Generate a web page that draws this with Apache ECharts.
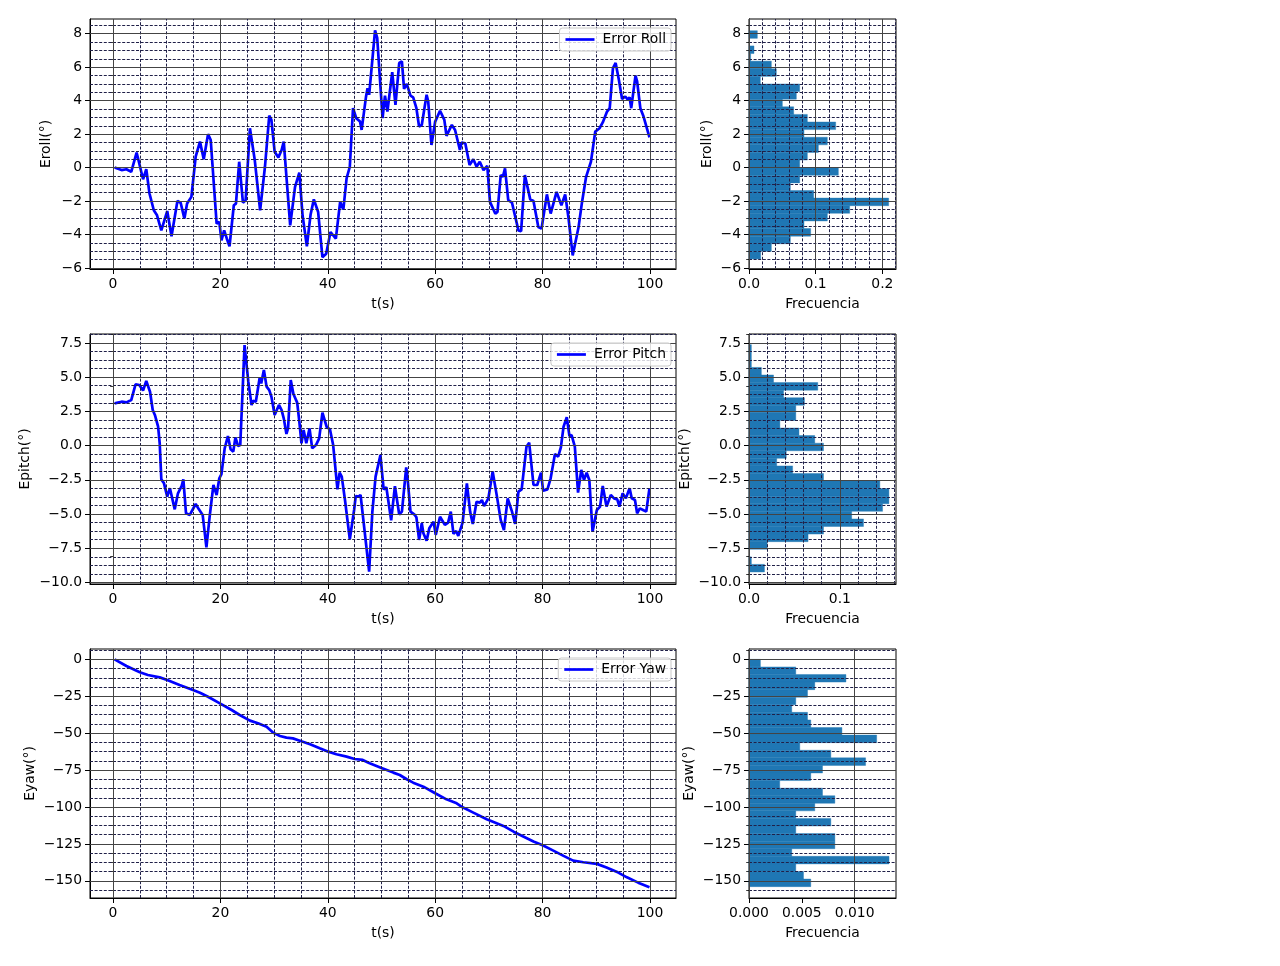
<!DOCTYPE html>
<html><head><meta charset="utf-8">
<script src="https://cdn.jsdelivr.net/npm/echarts@6/dist/echarts.min.js"></script>
<style>html,body{margin:0;padding:0;background:#fff}#c{width:1280px;height:966px}</style>
</head><body><div id="c"></div>
<script>
// ---------- data ----------
const rollTime = [0.3,1.6,2.5,3.4,4.4,5.6,6.2,6.8,7.6,8.2,9.0,10.1,10.9,12.0,12.6,13.3,13.8,14.6,15.4,16.2,16.9,17.7,18.2,19.3,19.8,20.2,20.7,21.2,21.7,22.5,22.9,23.5,24.2,24.7,25.5,26.4,27.4,28.3,29.1,29.5,30.1,30.8,31.4,31.8,32.3,33.0,33.9,34.7,35.3,36.1,36.8,37.4,38.2,39.0,39.7,40.5,41.5,42.3,42.9,43.5,44.1,44.7,45.3,46.0,46.3,47.1,47.4,47.7,48.8,49.2,50.2,50.65,51.1,52.0,52.6,53.3,53.8,54.2,54.7,55.4,55.9,56.5,57.0,57.5,58.4,58.7,59.3,60.0,60.9,61.7,62.1,63.1,63.7,64.6,64.9,65.6,66.4,67.1,67.7,68.3,69.0,69.7,70.2,71.2,71.6,72.2,72.6,73.0,73.6,74.3,75.5,76.0,76.7,77.0,77.7,78.3,79.2,79.8,80.8,81.5,82.6,83.5,84.2,84.8,85.6,86.7,87.3,88.1,89.0,89.8,90.6,91.2,92.0,92.5,93.1,93.6,94.2,94.8,95.4,95.9,96.2,96.5,97.3,97.6,98.2,98.8,99.9];
const rollVal = [0,-0.15,-0.1,-0.25,0.9,-0.7,-0.1,-1.55,-2.55,-2.85,-3.75,-2.6,-4.1,-2.0,-2.1,-3.05,-2.15,-1.75,0.65,1.55,0.5,2.0,1.65,-3.35,-3.25,-4.35,-3.75,-4.25,-4.7,-2.25,-2.15,0.35,-2.1,-1.95,2.35,0.45,-2.55,0.05,3.1,2.85,0.95,0.6,1.05,1.55,-0.55,-3.45,-1.15,-0.3,-2.85,-4.7,-2.8,-1.9,-2.65,-5.35,-5.15,-3.85,-4.25,-2.05,-2.5,-0.65,0.05,3.55,2.95,2.75,2.25,4.2,4.75,4.35,8.2,7.75,2.95,4.3,3.35,5.7,3.75,6.25,6.35,4.7,5.0,4.3,4.2,3.55,2.45,2.55,4.35,3.95,1.35,2.75,3.4,2.85,1.9,2.55,2.25,1.05,1.5,1.45,0.15,0.5,0.05,0.35,-0.15,0.1,-2.05,-2.75,-2.65,-0.45,-0.55,-0.05,-1.95,-2.1,-3.75,-3.8,-0.45,-0.55,-1.9,-2.0,-3.55,-3.65,-1.6,-2.75,-1.45,-2.25,-1.6,-2.95,-5.25,-3.55,-2.15,-0.55,0.35,2.15,2.35,2.7,3.35,3.55,5.95,6.25,5.25,4.1,4.25,4.05,4.2,3.55,5.5,5.15,3.55,3.05,1.8];

const pitchTime = [0.3,1.6,2.5,3.4,4.2,4.9,5.6,6.2,6.9,7.4,7.8,8.4,8.7,9.0,9.5,10.1,10.6,11.5,12.1,12.8,13.1,13.6,14.3,14.6,15.4,16.0,16.7,17.4,18.0,18.7,19.3,19.8,20.2,20.8,21.4,21.9,22.4,22.8,23.3,23.7,24.5,25.2,25.8,26.1,26.6,27.3,27.6,28.1,28.6,29.1,29.5,30.1,30.9,31.4,31.8,32.3,32.6,33.1,33.6,34.3,34.7,35.1,35.5,36.0,36.6,37.1,37.8,38.4,39.0,39.8,40.4,41.0,41.8,42.2,42.6,43.2,44.1,44.9,45.2,45.7,46.1,46.9,47.7,48.3,48.9,49.8,50.4,50.9,51.8,52.5,53.3,53.8,54.6,54.8,55.4,56.2,56.5,57.0,57.5,57.8,58.4,58.9,59.7,60.1,60.9,61.8,62.4,62.9,63.4,63.9,64.3,65.1,65.9,66.5,67.0,67.7,68.3,68.7,69.1,69.9,70.7,71.5,72.2,72.8,73.5,74.3,74.9,75.5,76.1,77.0,77.5,78.3,79.0,79.7,80.1,80.9,81.5,82.3,82.9,83.4,83.9,84.5,85.0,85.4,86.0,86.6,87.2,87.7,88.2,88.7,89.3,90.1,90.7,91.2,91.9,92.7,93.3,93.9,94.3,94.9,95.5,96.2,96.6,97.2,97.6,98.1,98.7,99.3,99.9];
const pitchVal = [3.09,3.21,3.16,3.33,4.48,4.43,4.02,4.72,3.94,2.6,2.24,1.38,0.17,-2.47,-2.76,-3.73,-3.12,-4.66,-3.49,-2.95,-2.47,-4.95,-5.07,-5.1,-4.27,-4.66,-5.07,-7.44,-5.2,-2.88,-3.61,-2.39,-2.08,-0.2,0.7,-0.27,-0.44,0.6,-0.03,0.04,7.35,4.67,2.97,3.28,3.21,4.92,4.55,5.53,4.31,4.06,3.58,2.24,2.97,2.6,1.99,0.85,1.26,4.8,3.77,3.14,1.75,0.17,1.14,0.17,1.26,-0.2,0.04,0.53,2.41,1.36,1.19,0.04,-3.2,-1.98,-2.27,-3.98,-6.85,-4.71,-3.69,-3.73,-3.61,-6.41,-9.22,-4.83,-2.27,-0.69,-3.2,-3.05,-5.46,-2.97,-5.04,-4.83,-1.59,-2.15,-4.83,-5.07,-5.24,-6.9,-5.68,-6.41,-6.95,-6.05,-5.56,-6.53,-5.2,-5.8,-5.63,-4.83,-6.46,-6.24,-6.6,-5.63,-2.76,-4.83,-5.73,-4.1,-4.17,-3.98,-4.42,-3.86,-1.9,-3.73,-5.44,-6.17,-3.86,-4.83,-5.73,-3.37,-3.2,-0.08,0.21,-2.88,-2.88,-1.98,-3.29,-3.2,-2.39,-0.61,-0.81,-0.13,1.38,2.07,0.7,0.77,-0.08,-3.44,-1.78,-2.51,-1.98,-2.51,-6.29,-4.71,-4.46,-2.95,-4.46,-3.61,-3.86,-3.93,-4.46,-3.49,-3.86,-3.12,-3.86,-3.98,-4.95,-4.59,-4.71,-4.83,-3.12];

const yawTime = [0.3,2.5,5.0,6.5,8.7,10.1,12.4,14.9,16.2,17.7,19.9,22.1,23.6,25.5,27.0,28.6,29.8,31.1,32.3,33.5,34.8,36.7,38.5,40.1,41.6,43.5,45.0,46.5,47.8,50.0,52.2,53.4,54.7,55.9,57.8,60.0,62.1,64.0,65.1,67.1,69.6,72.7,74.6,76.4,78.3,80.1,82.0,83.9,85.7,87.6,90.1,91.9,94.1,95.7,97.8,99.9];
const yawVal = [0,-4.5,-8.8,-10.6,-12.2,-14.0,-17.4,-20.8,-22.6,-25.3,-29.8,-34.3,-37.7,-41.5,-43.3,-45.6,-49.6,-51.9,-53.0,-53.5,-55.1,-57.5,-60.2,-62.5,-64.3,-65.9,-67.5,-68.1,-70.4,-73.5,-76.7,-78.3,-81.2,-83.5,-86.2,-90.7,-94.8,-97.5,-100.2,-103.8,-108.3,-112.8,-116.7,-120.0,-123.4,-126.1,-129.5,-133.1,-136.3,-137.4,-138.5,-141.0,-144.4,-147.6,-151.2,-154.3];

// histogram: 30 bins, frequencies listed from the top bin down to the bottom bin
const rollBinRange = [-5.46, 8.18];
const rollFreq = [0.0125,0,0.0075,0.0025,0.0335,0.041,0.017,0.076,0.071,0.05,0.067,0.0875,0.13,0.0825,0.1175,0.104,0.0875,0.076,0.134,0.076,0.062,0.097,0.2095,0.151,0.1175,0.0825,0.0925,0.062,0.0335,0.0175];
const pitchBinRange = [-9.24, 7.38];
const pitchFreq = [0.0026,0.0026,0.0026,0.0136,0.027,0.0757,0.038,0.061,0.0515,0.0515,0.034,0.055,0.0724,0.082,0.041,0.0305,0.048,0.082,0.144,0.154,0.154,0.147,0.113,0.126,0.082,0.065,0.020,0,0.0026,0.017];
const yawBinRange = [-153.9, 0];
const yawFreq = [0.00108,0.00443,0.00918,0.00623,0.00554,0.00443,0.00405,0.00554,0.00585,0.0088,0.01209,0.00481,0.00775,0.01104,0.00696,0.00585,0.00291,0.00696,0.00813,0.00623,0.00443,0.00775,0.00443,0.00813,0.00813,0.00405,0.01326,0.00443,0.00516,0.00585];

// tick labels
const timeTicks = [0,20,40,60,80,100];
const rollTicks = [-6,-4,-2,0,2,4,6,8];
const pitchTicks = [-10,-7.5,-5,-2.5,0,2.5,5,7.5];
const yawTicks = [-150,-125,-100,-75,-50,-25,0];
const rollFreqTicks = [0,0.1,0.2];
const pitchFreqTicks = [0,0.1];
const yawFreqTicks = [0,0.005,0.01];

// ---------- helpers ----------
const FONT = 'DejaVu Sans';
const FS = 13.9;
function fmt(d){ return v => { const s = Number(v).toFixed(d); return s.replace('-', '\u2212'); }; }
function minorValues(step, lo, hi, majors){
  const out = [];
  const k0 = Math.ceil(lo/step - 1e-9), k1 = Math.floor(hi/step + 1e-9);
  for (let k=k0;k<=k1;k++){ const v = +(k*step).toFixed(8); if(!majors.some(m=>Math.abs(m-v)<1e-9)) out.push(v); }
  return out;
}
function histData(range, freq){
  const n = freq.length, w = (range[1]-range[0])/n;
  return freq.map((f,i)=>[range[1]-(i+1)*w, range[1]-i*w, f]);
}

const lims = {
  time:[-4.28,104.84],
  roll:[-6.06,8.88], pitch:[-10.12,8.16], yaw:[-161.6,7.0],
  rollF:[0,0.2205], pitchF:[0,0.1618], yawF:[0,0.01392]
};

const gridsPos = [
  {left:90, top:19, width:586, height:250},
  {left:749, top:19, width:147, height:250},
  {left:90, top:334, width:586, height:250},
  {left:749, top:334, width:147, height:250},
  {left:90, top:649, width:586, height:249},
  {left:749, top:649, width:147, height:249}
];

const rows = [
  {name:'Error Roll', yName:'Eroll(\u00b0)', t:rollTime, v:rollVal, yl:lims.roll, yt:rollTicks, yd:0, ystep:0.5,
   hr:rollBinRange, hf:rollFreq, fl:lims.rollF, ft:rollFreqTicks, fd:1, fstep:0.02, gapL:37, gapH:35},
  {name:'Error Pitch', yName:'Epitch(\u00b0)', t:pitchTime, v:pitchVal, yl:lims.pitch, yt:pitchTicks, yd:1, ystep:0.625,
   hr:pitchBinRange, hf:pitchFreq, fl:lims.pitchF, ft:pitchFreqTicks, fd:1, fstep:0.02, gapL:58, gapH:57},
  {name:'Error Yaw', yName:'Eyaw(\u00b0)', t:yawTime, v:yawVal, yl:lims.yaw, yt:yawTicks, yd:0, ystep:6.25,
   hr:yawBinRange, hf:yawFreq, fl:lims.yawF, ft:yawFreqTicks, fd:3, fstep:0.001, gapL:53, gapH:53}
];

const grid = gridsPos.map(g=>Object.assign({show:true, borderColor:'#000', borderWidth:1, backgroundColor:'transparent', containLabel:false}, g));
const xAxis = [], yAxis = [], series = [], legend = [];
const MAJOR = {color:'#444444', width:1, type:'solid'};
const MINOR = {color:'#202048', width:1, type:[3,1.6]};

function mainX(gi, lim, ticks, d, name){
  return {gridIndex:gi, type:'value', min:lim[0], max:lim[1], position:'bottom',
    name, nameLocation:'middle', nameGap:28, nameTextStyle:{fontSize:FS, color:'#000', fontFamily:FONT},
    axisLine:{show:true, onZero:false, lineStyle:{color:'#000', width:1}},
    axisTick:{show:true, customValues:ticks, length:5, lineStyle:{color:'#000', width:1}},
    axisLabel:{show:true, customValues:ticks, formatter:fmt(d), margin:8, fontSize:FS, color:'#000', fontFamily:FONT},
    splitLine:{show:false}, minorTick:{show:false}, minorSplitLine:{show:false}};
}
function mainY(gi, lim, ticks, d, name, gap){
  return {gridIndex:gi, type:'value', min:lim[0], max:lim[1], position:'left',
    name, nameLocation:'middle', nameGap:gap, nameTextStyle:{fontSize:FS, color:'#000', fontFamily:FONT},
    axisLine:{show:true, onZero:false, lineStyle:{color:'#000', width:1}},
    axisTick:{show:true, customValues:ticks, length:5, lineStyle:{color:'#000', width:1}},
    axisLabel:{show:true, customValues:ticks, formatter:fmt(d), margin:8, fontSize:FS, color:'#000', fontFamily:FONT},
    splitLine:{show:false}};
}
function minorY(gi, lim, vals){
  return {gridIndex:gi, type:'value', min:lim[0], max:lim[1], position:'left',
    axisLine:{show:false}, axisLabel:{show:false},
    axisTick:{show:true, customValues:vals, length:2.8, lineStyle:{color:'#000', width:0.8}},
    splitLine:{show:false}};
}
function gridLines(gi, xMaj, xMin, yMaj, yMin, z, pt){
  const data = [];
  xMin.forEach(v=>data.push({xAxis:v, lineStyle:MINOR}));
  yMin.forEach(v=>data.push({yAxis:v, lineStyle:MINOR}));
  xMaj.forEach(v=>data.push({xAxis:v, lineStyle:MAJOR}));
  yMaj.forEach(v=>data.push({yAxis:v, lineStyle:MAJOR}));
  return {type:'line', name:'__grid'+gi, xAxisIndex:gi, yAxisIndex:gi*2, data:[pt], symbol:'none', showSymbol:false,
    lineStyle:{width:0, opacity:0}, z:z, silent:true, animation:false, tooltip:{show:false},
    markLine:{silent:true, symbol:['none','none'], label:{show:false}, animation:false, emphasis:{disabled:true}, data}};
}

rows.forEach((r, ri)=>{
  const gL = ri*2, gH = ri*2+1;
  const yMinor = minorValues(r.ystep, r.yl[0], r.yl[1], r.yt);
  const tMinor = minorValues(5, lims.time[0], lims.time[1], timeTicks);
  const fMinor = minorValues(r.fstep, r.fl[0], r.fl[1], r.ft);
  // line plot
  xAxis[gL] = mainX(gL, lims.time, timeTicks, 0, 't(s)');
  yAxis[gL*2] = mainY(gL, r.yl, r.yt, r.yd, r.yName, r.gapL);
  yAxis[gL*2+1] = minorY(gL, r.yl, yMinor);
  // histogram
  xAxis[gH] = mainX(gH, r.fl, r.ft, r.fd, 'Frecuencia');
  yAxis[gH*2] = mainY(gH, r.yl, r.yt, r.yd, r.yName, r.gapH);
  yAxis[gH*2+1] = minorY(gH, r.yl, yMinor);

  series.push(gridLines(gL, timeTicks, tMinor, r.yt, yMinor, 1, [50, r.yl[0]+0.001]));
  series.push({type:'line', name:r.name, xAxisIndex:gL, yAxisIndex:gL*2, z:3,
    data:r.t.map((t,i)=>[t, r.v[i]]), symbol:'none', showSymbol:false,
    lineStyle:{color:'#0000ff', width:2.7}, itemStyle:{color:'#0000ff'}, animation:false});
  series.push({type:'custom', name:'__hist'+ri, xAxisIndex:gH, yAxisIndex:gH*2, z:2,
    data:histData(r.hr, r.hf), encode:{x:2, y:[0,1]}, animation:false,
    renderItem:(params, api)=>{
      const lo = api.value(0), hi = api.value(1), f = api.value(2);
      if (!(f>0)) return null;
      const a = api.coord([0, hi]), b = api.coord([f, lo]);
      return {type:'rect', shape:{x:a[0], y:a[1], width:b[0]-a[0], height:b[1]-a[1]},
        style:{fill:'#1f77b4', stroke:'#1f77b4', lineWidth:0.4}};
    }});
  series.push(gridLines(gH, r.ft, fMinor, r.yt, yMinor, 5, [0, r.yl[0]+0.001]));

  legend.push({data:[{name:r.name, icon:'rect', itemStyle:{color:'#0000ff'}}], right:609, top:gridsPos[gL].top+9, orient:'vertical',
    backgroundColor:'rgba(255,255,255,0.8)', borderColor:'#c8c8c8', borderWidth:1, borderRadius:3,
    padding:[4,5,4,6], itemWidth:29, itemHeight:2.7, selectedMode:false, z:10,
    textStyle:{fontSize:FS, color:'#000', fontFamily:FONT, lineHeight:15, padding:[0,0,0,3]}});
});

const chart = echarts.init(document.getElementById('c'), null, {renderer:'canvas'});
chart.setOption({
  animation:false,
  backgroundColor:'#ffffff',
  textStyle:{fontFamily:FONT},
  grid, xAxis, yAxis, series, legend
});
</script>
</body></html>
